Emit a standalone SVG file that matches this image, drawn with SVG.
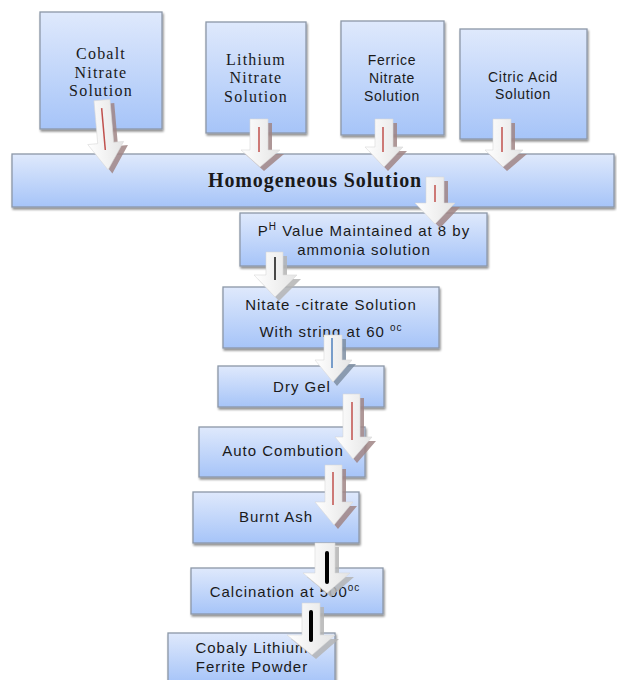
<svg xmlns="http://www.w3.org/2000/svg" width="617" height="680" viewBox="0 0 617 680">
  <defs>
    <linearGradient id="boxFill" x1="0" y1="0" x2="0" y2="1">
      <stop offset="0" stop-color="#dfe9fc"/>
      <stop offset="1" stop-color="#a6c4f8"/>
    </linearGradient>
    <linearGradient id="arrowFill" x1="0" y1="0" x2="1" y2="0">
      <stop offset="0" stop-color="#ffffff"/>
      <stop offset="1" stop-color="#e4e4e4"/>
    </linearGradient>
    <filter id="boxShadow" x="-5%" y="-5%" width="115%" height="130%">
      <feGaussianBlur in="SourceAlpha" stdDeviation="1.2"/>
      <feOffset dx="1" dy="2" result="b"/>
      <feComponentTransfer><feFuncA type="linear" slope="0.45"/></feComponentTransfer>
      <feMerge><feMergeNode/><feMergeNode in="SourceGraphic"/></feMerge>
    </filter>
  </defs>
  <style>
    .box { fill: url(#boxFill); stroke: #8c97a8; stroke-width: 1.3; filter: url(#boxShadow); }
    .serif { font-family: "Liberation Serif", "Times New Roman", serif; fill: #1a1a1a; text-anchor: middle; }
    .top { font-size: 16px; letter-spacing: 1.2px; }
    .sans { font-family: "Liberation Sans", Arial, sans-serif; fill: #1a1a1a; text-anchor: middle; font-size: 15px; letter-spacing: 1px; }
    .sm { font-size: 14px; letter-spacing: 0.7px; }
    .arrow { fill: url(#arrowFill); stroke: #d8d8d8; stroke-width: 0.6; }
    .shRed { fill: #a08585; opacity: 0.85; }
    .shBlue { fill: #7e8ea2; opacity: 0.85; }
    .shGray { fill: #b4b4b4; opacity: 0.85; }
    .lnRed { stroke: #c0504d; stroke-width: 1.5; }
    .lnBlue { stroke: #4f81bd; stroke-width: 1.5; }
    .lnBlack { stroke: #111111; stroke-width: 1.5; }
    .lnBold { stroke: #000000; stroke-width: 4; stroke-linecap: round; }
  </style>

  <!-- process boxes -->
  <g id="cobalt">
    <rect class="box" x="40" y="12" width="122" height="117"/>
    <text class="serif top"><tspan x="101" y="59">Cobalt</tspan><tspan x="101" y="78">Nitrate</tspan><tspan x="101" y="96">Solution</tspan></text>
  </g>
  <g id="lithium">
    <rect class="box" x="206" y="22" width="100" height="111"/>
    <text class="serif top"><tspan x="256" y="65">Lithium</tspan><tspan x="256" y="83">Nitrate</tspan><tspan x="256" y="102">Solution</tspan></text>
  </g>
  <g id="ferrice">
    <rect class="box" x="341" y="21" width="103" height="114"/>
    <text class="sans sm"><tspan x="392" y="65">Ferrice</tspan><tspan x="392" y="83">Nitrate</tspan><tspan x="392" y="101">Solution</tspan></text>
  </g>
  <g id="citric">
    <rect class="box" x="460" y="29" width="127" height="110"/>
    <text class="sans sm"><tspan x="523" y="82">Citric Acid</tspan><tspan x="523" y="99">Solution</tspan></text>
  </g>
  <g id="homogeneous">
    <rect class="box" x="12" y="154" width="602" height="53"/>
    <text class="serif" x="315" y="187" font-size="20" font-weight="bold" letter-spacing="0.9">Homogeneous Solution</text>
  </g>
  <g id="ph">
    <rect class="box" x="240" y="213" width="247" height="53"/>
    <text class="sans"><tspan x="364" y="236">P<tspan font-size="10" dy="-6">H</tspan><tspan dy="6"> Value Maintained at 8 by</tspan></tspan><tspan x="364" y="255">ammonia  solution</tspan></text>
  </g>
  <g id="nitrate-citrate">
    <rect class="box" x="223" y="287" width="216" height="61"/>
    <text class="sans"><tspan x="331" y="310">Nitate -citrate Solution</tspan><tspan x="331" y="337">With string at 60 <tspan font-size="10" dy="-6">oc</tspan></tspan></text>
  </g>
  <g id="dry-gel">
    <rect class="box" x="218" y="366" width="166" height="41"/>
    <text class="sans" x="302" y="392">Dry Gel</text>
  </g>
  <g id="auto-combustion">
    <rect class="box" x="199" y="427" width="166" height="50"/>
    <text class="sans" x="283" y="456">Auto Combution</text>
  </g>
  <g id="burnt-ash">
    <rect class="box" x="193" y="492" width="166" height="51"/>
    <text class="sans" x="276" y="522">Burnt Ash</text>
  </g>
  <g id="calcination">
    <rect class="box" x="191" y="568" width="192" height="46"/>
    <text class="sans" x="285" y="597">Calcination at 500<tspan font-size="10" dy="-6">oc</tspan></text>
  </g>
  <g id="powder">
    <rect class="box" x="168" y="633" width="167" height="50"/>
    <text class="sans"><tspan x="252" y="653">Cobaly Lithium</tspan><tspan x="252" y="672">Ferrite Powder</tspan></text>
  </g>

  <!-- block arrows between steps -->
  <g id="connectors">
    <g transform="rotate(-5 105 135)">
      <path class="shRed" d="M101,104 H117 V147 H127 L109,174 L91,147 H101 Z"/>
      <path class="arrow" d="M97,100 H113 V143 H123 L105,170 L87,143 H97 Z"/>
      <line class="lnRed" x1="104" y1="108" x2="104" y2="150"/>
    </g>

    <path class="shRed" d="M254,123 H272 V154 H284 L264,171 L245,154 H254 Z"/>
    <path class="arrow" d="M250,119 H268 V150 H280 L260,167 L241,150 H250 Z"/>
    <line class="lnRed" x1="259" y1="127" x2="259" y2="152"/>

    <path class="shRed" d="M379,123 H397 V151 H407 L388,171 L369,151 H379 Z"/>
    <path class="arrow" d="M375,119 H393 V147 H403 L384,167 L365,147 H375 Z"/>
    <line class="lnRed" x1="383" y1="127" x2="383" y2="152"/>

    <path class="shRed" d="M497,123 H515 V154 H527 L507,171 L489,154 H497 Z"/>
    <path class="arrow" d="M493,119 H511 V150 H523 L503,167 L485,150 H493 Z"/>
    <line class="lnRed" x1="502" y1="127" x2="502" y2="152"/>

    <path class="shRed" d="M430,181 H448 V207 H460 L440,228 L420,207 H430 Z"/>
    <path class="arrow" d="M426,177 H444 V203 H455 L435,224 L415,203 H426 Z"/>
    <line class="lnRed" x1="435" y1="185" x2="435" y2="202"/>

    <path class="shGray" d="M270,256 H287 V279 H301 L279,301 L258,279 H270 Z"/>
    <path class="arrow" d="M266,252 H283 V275 H297 L275,297 L254,275 H266 Z"/>
    <line class="lnBlack" x1="275" y1="257" x2="275" y2="280"/>

    <path class="shBlue" d="M328,339 H346 V364 H356 L337,386 L319,364 H328 Z"/>
    <path class="arrow" d="M324,335 H342 V360 H352 L333,382 L315,360 H324 Z"/>
    <line class="lnBlue" x1="332" y1="338" x2="332" y2="368"/>

    <path class="shRed" d="M347,398 H364 V441 H376 L357,463 L339,441 H347 Z"/>
    <path class="arrow" d="M343,394 H360 V437 H372 L353,459 L335,437 H343 Z"/>
    <line class="lnRed" x1="352" y1="402" x2="352" y2="440"/>

    <path class="shRed" d="M329,469 H346 V506 H357 L338,529 L319,506 H329 Z"/>
    <path class="arrow" d="M325,465 H342 V502 H353 L334,525 L315,502 H325 Z"/>
    <line class="lnRed" x1="333" y1="472" x2="333" y2="505"/>

    <path class="shGray" d="M319,547 H339 V577 H354 L331,597 L307,577 H319 Z"/>
    <path class="arrow" d="M315,543 H335 V573 H350 L327,593 L303,573 H315 Z"/>
    <line class="lnBold" x1="327" y1="553" x2="327" y2="582"/>

    <path class="shGray" d="M306,607 H324 V639 H339 L316,659 L291,639 H306 Z"/>
    <path class="arrow" d="M302,603 H320 V635 H335 L312,655 L287,635 H302 Z"/>
    <line class="lnBold" x1="311" y1="612" x2="311" y2="640"/>
  </g>
</svg>
